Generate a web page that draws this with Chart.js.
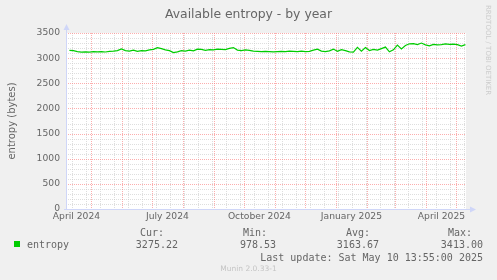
<!DOCTYPE html>
<html>
<head>
<meta charset="utf-8">
<script src="https://cdn.jsdelivr.net/npm/chart.js@4.4.1/dist/chart.umd.min.js"></script>
<style>
  html, body { margin: 0; padding: 0; background: #F0F0F0; }
  #wrap { position: relative; width: 497px; height: 280px; overflow: hidden; }
  #cha { position: absolute; left: 0; top: 0; }
  .t { position: absolute; white-space: pre; color: #666666; }
  .mono { font: 10px "DejaVu Sans Mono", monospace; line-height: 12px; }
</style>
</head>
<body>
<div id="wrap">
  <canvas id="cha" width="497" height="280"></canvas>
  <div class="t" style="left:0;width:497px;text-align:center;top:6px;font:12.4px 'DejaVu Sans';line-height:15px;">Available entropy - by year</div>
  <div class="t" style="left:12px;top:121px;font:10px 'DejaVu Sans';line-height:12px;transform:translate(-50%,-50%) rotate(-90deg);">entropy (bytes)</div>
  <div class="t" style="left:484px;top:5px;font:7px 'DejaVu Sans';color:#cccccc;writing-mode:vertical-rl;">RRDTOOL / TOBI OETIKER</div>
  <div style="position:absolute;left:14px;top:241px;width:6px;height:6px;background:#00CC00;"></div>
  <div class="t mono" style="left:27px;top:239px;">entropy</div>
  <div class="t mono" style="left:140px;top:227px;">Cur:</div>
  <div class="t mono" style="left:243px;top:227px;">Min:</div>
  <div class="t mono" style="left:346px;top:227px;">Avg:</div>
  <div class="t mono" style="left:448px;top:227px;">Max:</div>
  <div class="t mono" style="right:319px;top:239px;">3275.22</div>
  <div class="t mono" style="right:221px;top:239px;">978.53</div>
  <div class="t mono" style="right:118px;top:239px;">3163.67</div>
  <div class="t mono" style="right:14px;top:239px;">3413.00</div>
  <div class="t mono" style="right:14px;top:252px;">Last update: Sat May 10 13:55:00 2025</div>
  <div class="t" style="left:0;width:497px;text-align:center;top:264px;font:7.5px 'DejaVu Sans';line-height:10px;color:#c4c4c4;">Munin 2.0.33-1</div>
</div>
<script>
// graph window: 400 days ending at last update
const rangeEnd = '2025-05-10T13:55:00Z';
const rangeDays = 400;

// daily averages, one every 4 days from the first date
const firstDate = '2024-04-09';
const stepDays = 4;
const entropy = [
  3155, 3150, 3130, 3120, 3125, 3120, 3130, 3125, 3128, 3122,
  3135, 3140, 3150, 3185, 3150, 3140, 3160, 3135, 3150, 3145,
  3165, 3175, 3210, 3190, 3165, 3150, 3110, 3125, 3150, 3140,
  3160, 3145, 3180, 3175, 3155, 3170, 3165, 3180, 3175, 3170,
  3195, 3210, 3160, 3150, 3165, 3155, 3140, 3135, 3130, 3135,
  3130, 3125, 3130, 3135, 3130, 3140, 3135, 3130, 3140, 3130,
  3135, 3160, 3180, 3140, 3130, 3145, 3180, 3135, 3170, 3150,
  3125, 3120, 3215, 3140, 3210, 3150, 3175, 3160, 3190, 3220,
  3125, 3165, 3260, 3185, 3250, 3285, 3290, 3270, 3300, 3265,
  3245, 3275, 3265, 3270, 3285, 3275, 3280, 3270, 3240, 3270
];

const tickLabels = ['April 2024', 'July 2024', 'October 2024', 'January 2025', 'April 2025'];
const tickDates = ['2024-04-16', '2024-07-16', '2024-10-16', '2025-01-16', '2025-04-16'];

const DAY = 86400000;
const endMs = Date.parse(rangeEnd);
const startMs = endMs - rangeDays * DAY;
const toDay = s => (Date.parse(s + 'T00:00:00Z') - startMs) / DAY;

const firstDay = toDay(firstDate);
const points = entropy.map((v, i) => ({ x: firstDay + i * stepDays, y: v }));
const tickDays = tickDates.map(toDay);

// month starts (major) and fortnight lines (minor)
const monthDays = [];
for (let y = 2024, m = 4; ; m++) {
  if (m > 11) { m = 0; y++; }
  monthDays.push((Date.UTC(y, m, 1) - startMs) / DAY);
  if (y === 2025 && m === 4) break;
}
const fortnightDays = [];
for (let d = toDay('2024-04-12'); d < rangeDays; d += 14) fortnightDays.push(d);

const muninGrid = {
  id: 'muninGrid',
  beforeDraw(chart) {
    const { ctx, chartArea: a } = chart;
    ctx.save();
    ctx.fillStyle = '#F0F0F0';
    ctx.fillRect(0, 0, chart.width, chart.height);
    ctx.fillStyle = '#FFFFFF';
    ctx.fillRect(a.left, a.top, a.right - a.left, a.bottom - a.top);
    ctx.restore();
  },
  beforeDatasetsDraw(chart) {
    const { ctx, chartArea: a, scales: { x, y } } = chart;
    const px = v => Math.round(x.getPixelForValue(v)) + 0.5;
    const py = v => Math.round(y.getPixelForValue(v)) + 0.5;
    ctx.save();
    ctx.lineWidth = 1;
    ctx.setLineDash([1, 1]);
    const vline = (X, c) => { ctx.strokeStyle = c; ctx.beginPath(); ctx.moveTo(X, a.top); ctx.lineTo(X, a.bottom); ctx.stroke(); };
    const hline = (Y, c) => { ctx.strokeStyle = c; ctx.beginPath(); ctx.moveTo(a.left, Y); ctx.lineTo(a.right, Y); ctx.stroke(); };
    const minor = 'rgba(200,200,200,0.6)';
    const major = 'rgba(250,120,120,0.6)';
    for (let v = 100; v <= 3500; v += 100) if (v % 500) hline(py(v), minor);
    fortnightDays.forEach(d => { if (d > 0) vline(px(d), minor); });
    for (let v = 500; v <= 3500; v += 500) hline(py(v), major);
    monthDays.forEach(d => { if (d > 0 && d < rangeDays) vline(px(d), major); });
    // axes with arrows
    ctx.setLineDash([]);
    ctx.strokeStyle = '#CFD6F8';
    ctx.fillStyle = '#CFD6F8';
    const L = Math.round(a.left) + 0.5, B = Math.round(a.bottom) + 0.5;
    ctx.beginPath(); ctx.moveTo(L, B); ctx.lineTo(L, a.top - 4); ctx.stroke();
    ctx.beginPath(); ctx.moveTo(a.left - 2, B); ctx.lineTo(a.right + 4, B); ctx.stroke();
    ctx.beginPath(); ctx.moveTo(L - 3, a.top - 3); ctx.lineTo(L + 3, a.top - 3); ctx.lineTo(L, a.top - 9); ctx.closePath(); ctx.fill();
    ctx.beginPath(); ctx.moveTo(a.right + 4, B - 3); ctx.lineTo(a.right + 4, B + 3); ctx.lineTo(a.right + 10, B); ctx.closePath(); ctx.fill();
    ctx.restore();
  }
};

const ctx4 = document.getElementById('cha');
const chart4 = new Chart(ctx4, {
  type: 'line',
  data: {
    datasets: [{
      label: 'entropy',
      data: points,
      borderColor: '#00CC00',
      borderWidth: 1.2,
      pointRadius: 0,
      tension: 0,
      fill: false
    }]
  },
  options: {
    responsive: false,
    animation: false,
    devicePixelRatio: 1,
    layout: { padding: { left: 0, top: 33, right: 31, bottom: 0 } },
    plugins: {
      legend: { display: false },
      title: { display: false },
      tooltip: { enabled: false }
    },
    scales: {
      x: {
        type: 'linear',
        min: 0,
        max: rangeDays,
        afterBuildTicks: s => { s.ticks = tickDays.map(v => ({ value: v })); },
        afterFit: s => { s.height = 71; },
        grid: { display: false, drawTicks: false },
        border: { display: false },
        ticks: {
          autoSkip: false,
          maxRotation: 0,
          padding: 2,
          color: '#666666',
          font: { family: 'DejaVu Sans', size: 9.2 },
          callback: (v, i) => tickLabels[i]
        }
      },
      y: {
        min: 0,
        max: 3500,
        afterFit: s => { s.width = 66; },
        grid: { display: false, drawTicks: false },
        border: { display: false },
        ticks: {
          stepSize: 500,
          padding: 6,
          color: '#666666',
          font: { family: 'DejaVu Sans', size: 9.2 },
          callback: v => String(v)
        }
      }
    }
  },
  plugins: [muninGrid]
});
</script>
</body>
</html>
